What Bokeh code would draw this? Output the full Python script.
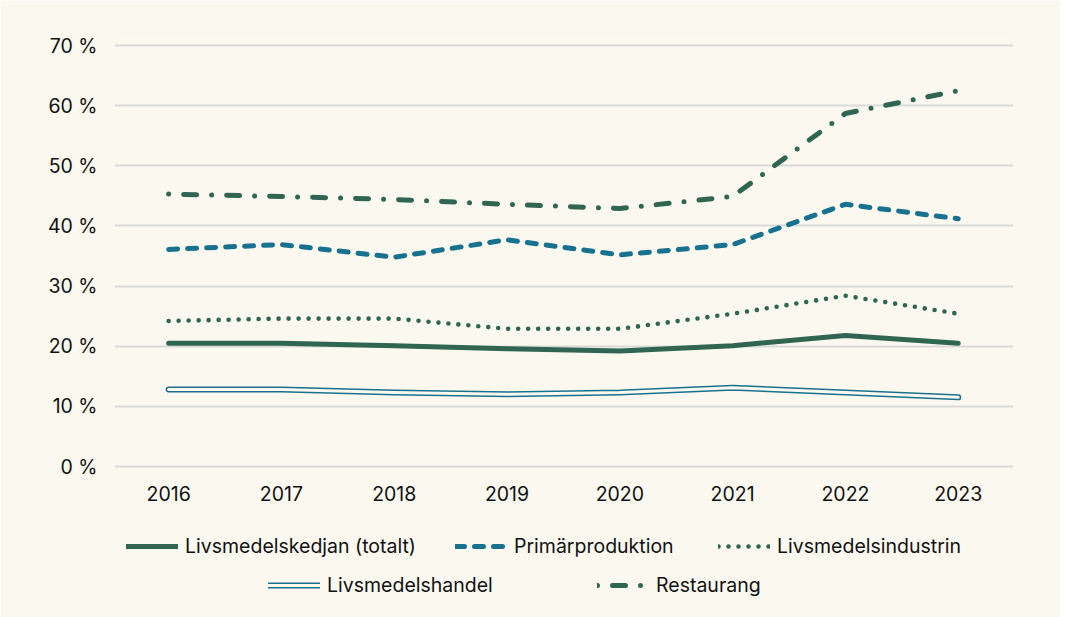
from bokeh.plotting import figure
from bokeh.models import Range1d, FixedTicker, Legend, LegendItem
from bokeh.core.properties import value
from bokeh.embed import file_html
from bokeh.resources import INLINE

years = [2016, 2017, 2018, 2019, 2020, 2021, 2022, 2023]
totalt = [20.5, 20.5, 20.1, 19.6, 19.2, 20.1, 21.8, 20.5]
primar = [36.1, 36.9, 34.8, 37.7, 35.2, 36.9, 43.6, 41.2]
industri = [24.2, 24.6, 24.6, 22.9, 22.9, 25.4, 28.4, 25.4]
handel = [12.8, 12.8, 12.3, 12.0, 12.3, 13.1, 12.3, 11.5]
restaurang = [45.3, 44.9, 44.4, 43.6, 42.9, 44.9, 58.7, 62.5]
y_ticks = [0, 10, 20, 30, 40, 50, 60, 70]
y_labels = {t: f"{t} %" for t in y_ticks}
year_labels = [str(y) for y in years]

GREEN = "#2f6551"
BLUE = "#18718f"
BG = "#fbf9ef"
FONT = "Inter"
FS = "19.5px"
TXT = "#111111"

p = figure(width=1060, height=617, output_backend="svg", toolbar_location=None,
           x_range=Range1d(2015.52, 2023.49), y_range=Range1d(-25.1, 71),
           min_border_left=114, min_border_right=47, min_border_top=39, min_border_bottom=0)
p.background_fill_color = BG
p.border_fill_color = BG
p.outline_line_color = None

p.xaxis.visible = False
p.xgrid.grid_line_color = None
p.ygrid.grid_line_color = "#d9d9d9"
p.ygrid.grid_line_width = 2
p.yaxis.ticker = FixedTicker(ticks=y_ticks)
p.yaxis.major_label_overrides = y_labels
p.yaxis.axis_line_color = None
p.yaxis.major_tick_line_color = None
p.yaxis.minor_tick_line_color = None
p.yaxis.major_label_text_font = FONT
p.yaxis.major_label_text_font_size = FS
p.yaxis.major_label_text_color = TXT
p.yaxis.major_label_standoff = 11

p.text(x=years, y=[-4.5] * len(years), text=year_labels, text_align="center",
       text_baseline="middle", text_font=value(FONT), text_font_size=FS,
       text_color=TXT)

r_tot = p.line(years, totalt, line_color=GREEN, line_width=5, line_cap="round", line_join="round")
r_pri = p.line(years, primar, line_color=BLUE, line_width=5, line_dash="9 10", line_cap="round", line_join="round")
r_ind = p.line(years, industri, line_color=GREEN, line_width=4.6, line_dash="0 10", line_cap="round", line_join="round")
r_han1 = p.line(years, handel, line_color=BLUE, line_width=6, line_cap="round", line_join="round")
r_han2 = p.line(years, handel, line_color=BG, line_width=3, line_cap="round", line_join="round")
r_res = p.line(years, restaurang, line_color=GREEN, line_width=5, line_dash="0 15 13 15", line_cap="round", line_join="round")

def add_leg(label, renderers, x, y):
    leg = Legend(items=[LegendItem(label=label, renderers=renderers)], location=(x, y),
                 orientation="horizontal", padding=0, margin=0, spacing=0,
                 glyph_width=52, glyph_height=20, label_standoff=7,
                 label_text_font=FONT, label_text_font_size=FS, label_text_color=TXT,
                 border_line_color=None, background_fill_alpha=0)
    p.add_layout(leg, "center")

row1 = 59
row2 = 20
add_leg("Livsmedelskedjan (totalt)", [r_tot], 126 - 114, row1)
add_leg("Primärproduktion", [r_pri], 455 - 114, row1)
add_leg("Livsmedelsindustrin", [r_ind], 718 - 114, row1)
add_leg("Livsmedelshandel", [r_han1, r_han2], 268 - 114, row2)
add_leg("Restaurang", [r_res], 597 - 114, row2)

open("out.html", "w").write(file_html(p, INLINE))
